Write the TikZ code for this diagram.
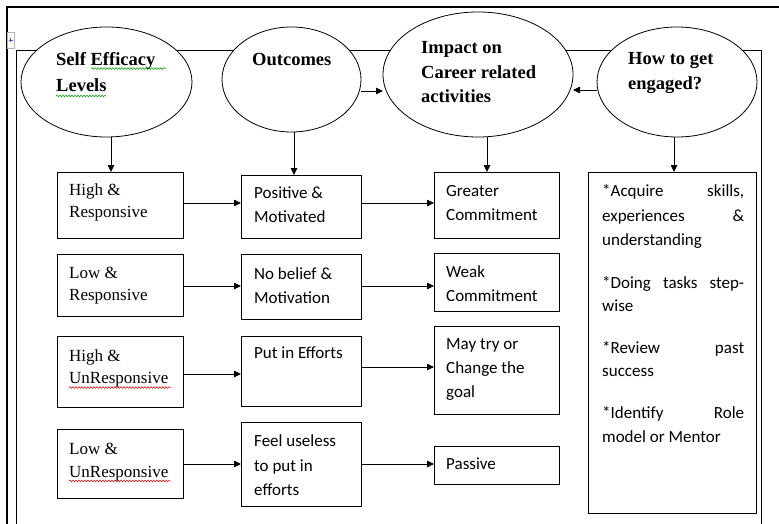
\documentclass[tikz,border=0pt]{standalone}
\usepackage{fontspec}
\setmainfont{Liberation Serif}
\newfontfamily\calibrifont{Carlito}
\usetikzlibrary{shapes.geometric,arrows.meta,calc,decorations.pathmorphing}
\newcommand\mybox[5]{\node[box, minimum width=#4pt, minimum height=#5pt] (#1) at (#2,#3) {};}
\begin{document}
\begin{tikzpicture}[x=1pt,y=-1pt,
  box/.style={draw, line width=0.8pt, inner sep=0pt, outer sep=0pt, fill=white},
  ell/.style={draw, ellipse, line width=0.8pt, inner sep=0pt, outer sep=0pt, fill=white},
  arr/.style={line width=0.8pt, -{Triangle[length=7pt,width=6.5pt]}},
  ttl/.style={anchor=base west, inner sep=0pt, font=\fontsize{18.5}{22}\selectfont\bfseries},
  ser/.style={anchor=base west, inner sep=0pt, font=\fontsize{17}{20}\selectfont},
  cal/.style={anchor=base west, inner sep=0pt, font=\fontsize{17}{20}\selectfont\calibrifont},
  wavy/.style={decorate, decoration={snake, amplitude=0.9pt, segment length=3pt}, line width=0.5pt}
]
\useasboundingbox (0,0) rectangle (779,524);
% frames
\draw[line width=1.6pt] (7,524) -- (7,7) -- (779,7);
\draw[line width=0.8pt] (16,524) -- (16,50) -- (761,50) -- (761,524);
% table handle
\draw[gray!60, fill=white, line width=0.5pt] (7,32) rectangle (14,48);
\draw[blue!70, line width=0.5pt] (8.5,40) -- (12.5,40) (10.5,38) -- (10.5,42);

% ellipses
\node[ell, minimum width=171pt, minimum height=110pt] (e1) at (106.5,82) {};
\node[ell, minimum width=139pt, minimum height=105pt] (e2) at (291.5,79.5) {};
\node[ell, minimum width=190pt, minimum height=125pt] (e3) at (478,74.5) {};
\node[ell, minimum width=160pt, minimum height=110pt] (e4) at (677,82) {};

\node[ttl] (e1a) at (56,66) {Self Efficacy};
\node[ttl] (e1b) at (56,92) {Levels};
\node[ttl] (e2a) at (252,66) {Outcomes};
\node[ttl] (e3a) at (421,54) {Impact on};
\node[ttl] (e3b) at (421,79) {Career related};
\node[ttl] (e3c) at (421,103) {activities};
\node[ttl] (e4a) at (628,65) {How to get};
\node[ttl] (e4b) at (628,90) {engaged?};
\draw[wavy, green!60!black] (91,68.5) -- (166,68.5);
\draw[wavy, green!60!black] (56,96) -- (106,96);

% boxes
\mybox{b11}{120}{205}{126}{66}
\mybox{b12}{120}{285}{126}{62}
\mybox{b13}{120}{371.5}{126}{71}
\mybox{b14}{120}{463.5}{126}{69}
\mybox{b21}{301}{206.5}{120}{63}
\mybox{b22}{301}{286.5}{120}{65}
\mybox{b23}{301}{371}{120}{70}
\mybox{b24}{301}{464}{120}{84}
\mybox{b31}{496.5}{205}{125}{66}
\mybox{b32}{496.5}{282}{125}{58}
\mybox{b33}{496.5}{370}{125}{88}
\mybox{b34}{496.5}{465}{125}{38}
\mybox{b4}{672}{342.5}{168}{341}

% column 1 text
\node[ser] (t11a) at (69,195) {High \&};
\node[ser] (t11b) at (69,217) {Responsive};
\node[ser] (t12a) at (69,278) {Low \&};
\node[ser] (t12b) at (69,300) {Responsive};
\node[ser] (t13a) at (69,361) {High \&};
\node[ser] (t13b) at (69,383) {UnResponsive};
\node[ser] (t14a) at (69,454) {Low \&};
\node[ser] (t14b) at (69,477) {UnResponsive};
\draw[wavy, red!85!black] (69,387.5) -- (171,387.5);
\draw[wavy, red!85!black] (69,481) -- (171,481);

% column 2 text
\node[cal] (t21a) at (254,198) {Positive \&};
\node[cal] (t21b) at (254,222) {Motivated};
\node[cal] (t22a) at (254,279) {No belief \&};
\node[cal] (t22b) at (254,303) {Motivation};
\node[cal] (t23a) at (254,358) {Put in Efforts};
\node[cal] (t24a) at (254,446) {Feel useless};
\node[cal] (t24b) at (254,471) {to put in};
\node[cal] (t24c) at (254,495) {efforts};

% column 3 text
\node[cal] (t31a) at (446,196) {Greater};
\node[cal] (t31b) at (446,220) {Commitment};
\node[cal] (t32a) at (446,277) {Weak};
\node[cal] (t32b) at (446,301) {Commitment};
\node[cal] (t33a) at (446,349) {May try or};
\node[cal] (t33b) at (446,373) {Change the};
\node[cal] (t33c) at (446,397) {goal};
\node[cal] (t34a) at (446,469) {Passive};

% column 4 text
\node[cal] (t4a) at (602,196) {\makebox[142pt][s]{*Acquire skills,}};
\node[cal] (t4b) at (602,221) {\makebox[142pt][s]{experiences \&}};
\node[cal] (t4c) at (602,245) {understanding};
\node[cal] (t4d) at (602,288) {\makebox[142pt][s]{*Doing tasks step-}};
\node[cal] (t4e) at (602,311) {wise};
\node[cal] (t4f) at (602,353) {\makebox[142pt][s]{*Review past}};
\node[cal] (t4g) at (602,376) {success};
\node[cal] (t4h) at (602,418) {\makebox[142pt][s]{*Identify Role}};
\node[cal] (t4i) at (602,442) {model or Mentor};

% ellipse connectors
\draw[arr] (e2.east |- 0,91) -- (e3.west |- 0,91);
\draw[arr] (e4.west |- 0,90) -- (e3.east |- 0,90);
\coordinate (d1) at ($(e1.south)+(4.5,0)$);
\coordinate (d2) at ($(e2.south)+(2.5,0)$);
\coordinate (d3) at ($(e3.south)+(9,0)$);
\coordinate (d4) at ($(e4.south)+(-3,0)$);
\draw[arr] (d1) -- (d1 |- b11.north);
\draw[arr] (d2) -- (d2 |- b21.north);
\draw[arr] (d3) -- (d3 |- b31.north);
\draw[arr] (d4) -- (d4 |- b4.north);

% row connectors
\draw[arr] (b11.east |- 0,203) -- (b21.west |- 0,203);
\draw[arr] (b12.east |- 0,286) -- (b22.west |- 0,286);
\draw[arr] (b13.east |- 0,374) -- (b23.west |- 0,374);
\draw[arr] (b14.east |- 0,464) -- (b24.west |- 0,464);
\draw[arr] (b21.east |- 0,203) -- (b31.west |- 0,203);
\draw[arr] (b22.east |- 0,286) -- (b32.west |- 0,286);
\draw[arr] (b23.east |- 0,367) -- (b33.west |- 0,367);
\draw[arr] (b24.east |- 0,464) -- (b34.west |- 0,464);
\end{tikzpicture}
\end{document}
